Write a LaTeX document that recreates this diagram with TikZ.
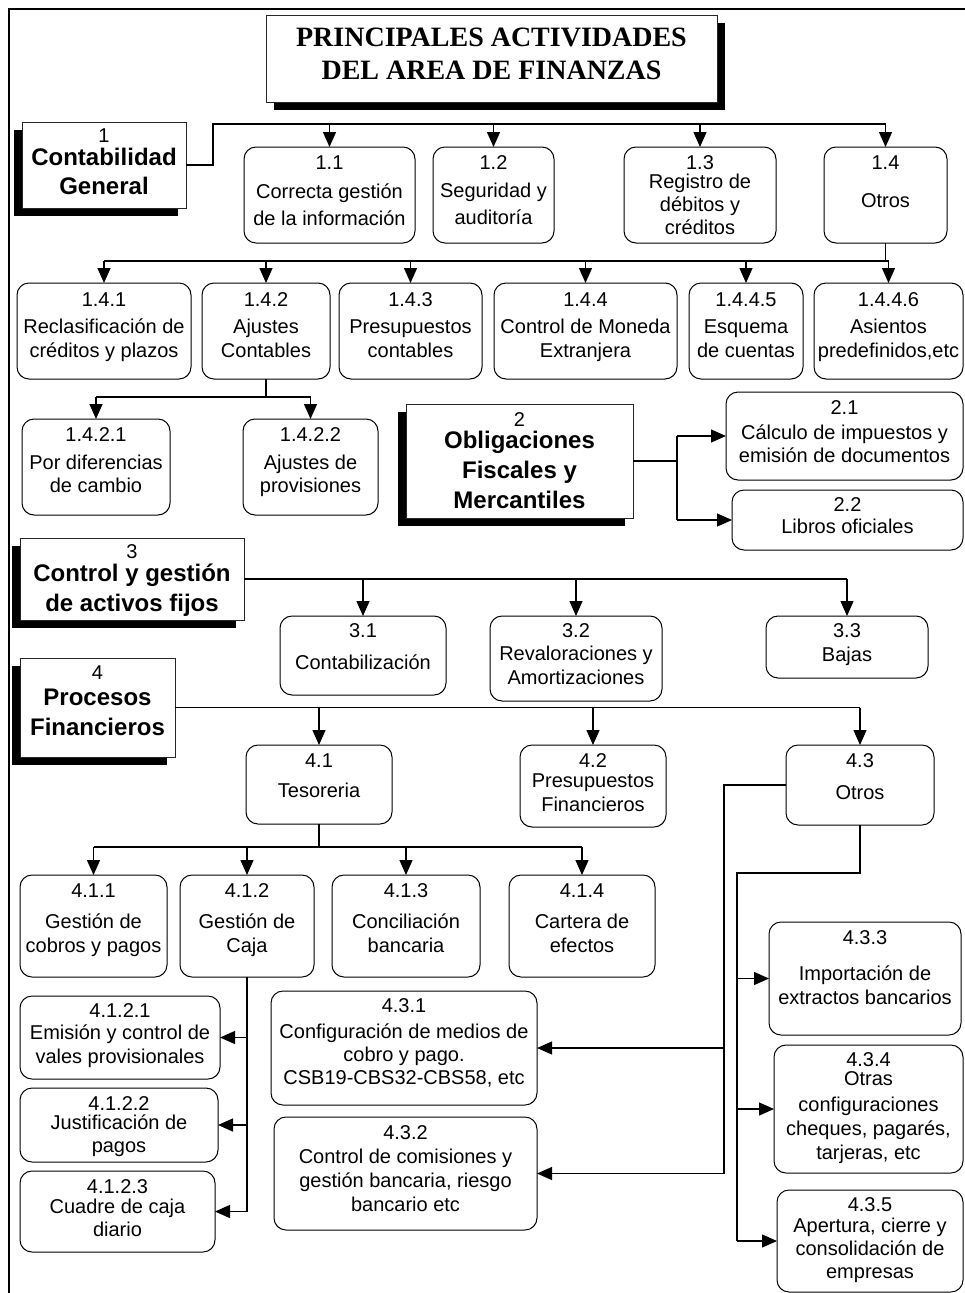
\documentclass[tikz,border=0pt]{standalone}
\usepackage{fontspec}
\setmainfont{Liberation Sans}
\newfontfamily\titlefont{Liberation Serif}
\usetikzlibrary{arrows.meta}
\newcommand\numf{\fontsize{20}{24}\selectfont\mdseries}
\tikzset{
  rbox/.style={draw=black, line width=1pt, rounded corners=12pt, inner sep=0pt, outer sep=0pt, fill=white},
  sbox/.style={draw=black!85, line width=1pt, inner sep=0pt, outer sep=0pt, fill=white},
  txt/.style={align=center, inner sep=0pt, font=\fontsize{20}{24}\selectfont, execute at begin node=\strut, execute at end node=\strut},
  btxt/.style={align=center, inner sep=0pt, font=\fontsize{24}{30}\selectfont\bfseries, execute at begin node=\strut, execute at end node=\strut},
  ttxt/.style={align=center, inner sep=0pt, font=\titlefont\bfseries\fontsize{28}{33}\selectfont, execute at begin node=\strut, execute at end node=\strut},
  ln/.style={line width=1.3pt},
  arr/.style={line width=1.3pt, -{Triangle[width=13pt,length=15pt]}},
}
% rounded box: name, x1, y1, x2, y2, text-y, text
\newcommand\rbx[7]{%
  \node[rbox, minimum width={#4pt-#2pt}, minimum height={#5pt-#3pt}] (#1) at ({(#2+#4)/2},{(#3+#5)/2}) {};
  \node[txt] (#1t) at ({(#2+#4)/2},#6) {#7};
}
% shadow box: name, x1, y1, x2, y2, shadow dx, text-y, text
\newcommand\sbx[8]{%
  \fill[black] ({#2+(#6)},{#3+8}) rectangle ({#4+(#6)},{#5+8});
  \node[sbox, minimum width={#4pt-#2pt}, minimum height={#5pt-#3pt}] (#1) at ({(#2+#4)/2},{(#3+#5)/2}) {};
  \node[btxt] (#1t) at ({(#2+#4)/2},#7) {#8};
}
\begin{document}
\begin{tikzpicture}[x=1pt,y=-1pt]
\useasboundingbox (0,0) rectangle (965,1293);
% frame
\draw[ln] (9,1293) -- (9,9) -- (965,9);
% title
\fill[black] (274,23) rectangle (725,110);
\node[sbox, minimum width=451pt, minimum height=87pt] (title) at (491.5,58.5) {};
\node[ttxt] (titlet) at (491.5,59) {PRINCIPALES ACTIVIDADES\\DEL AREA DE FINANZAS};

% main boxes
\sbx{b1}{22}{122}{186}{208}{-8}{166}{{\numf 1}\\[-7pt]Contabilidad\\[-1pt]General}
\sbx{b2}{406}{404}{633}{518}{-8}{465.5}{{\numf 2}\\[-8pt]Obligaciones\\Fiscales y\\Mercantiles}
\sbx{b3}{20}{538}{244}{620}{-8}{583}{{\numf 3}\\[-7pt]Control y gestión\\de activos fijos}
\sbx{b4}{20}{658}{175}{757}{-8}{705.5}{{\numf 4}\\[-4pt]Procesos\\Financieros}

% level 1.x
\rbx{n11}{244}{147}{415}{243}{194.5}{1.1\\[5pt]Correcta gestión\\[3pt]de la información}
\rbx{n12}{433}{147}{554}{243}{194}{1.2\\[4pt]Seguridad y\\[3pt]auditoría}
\rbx{n13}{624}{147}{776}{243}{199}{1.3\\[-5pt]Registro de\\[-1pt]débitos y\\[-1pt]créditos}
\rbx{n14}{824}{147}{947}{243}{185.5}{1.4\\[14pt]Otros}

\rbx{n141}{17}{283}{191}{379}{329}{1.4.1\\[3pt]Reclasificación de\\créditos y plazos}
\rbx{n142}{202}{283}{330}{379}{329}{1.4.2\\[3pt]Ajustes\\Contables}
\rbx{n143}{339}{283}{482}{379}{329}{1.4.3\\[3pt]Presupuestos\\contables}
\rbx{n144}{494}{283}{677}{379}{329}{1.4.4\\[3pt]Control de Moneda\\Extranjera}
\rbx{n1445}{689}{283}{803}{379}{329}{1.4.4.5\\[3pt]Esquema\\de cuentas}
\rbx{n1446}{814}{283}{963}{379}{329}{1.4.4.6\\[3pt]Asientos\\predefinidos,etc}

\rbx{n1421}{22}{419}{170}{515}{464}{1.4.2.1\\[4pt]Por diferencias\\[-1pt]de cambio}
\rbx{n1422}{243}{419}{378}{515}{464}{1.4.2.2\\[4pt]Ajustes de\\[-1pt]provisiones}

\rbx{n21}{726}{392}{963}{480}{435.5}{2.1\\[1pt]Cálculo de impuestos y\\[-1pt]emisión de documentos}
\rbx{n22}{732}{490}{963}{550}{519.5}{2.2\\[-2pt]Libros oficiales}

\rbx{n31}{280}{616}{446}{695}{650.5}{3.1\\[8pt]Contabilización}
\rbx{n32}{490}{616}{662}{701}{658}{3.2\\[-1pt]Revaloraciones y\\Amortizaciones}
\rbx{n33}{766}{616}{928}{678}{646.5}{3.3\\Bajas}

\rbx{n41}{246}{745}{392}{824}{779.5}{4.1\\[6pt]Tesoreria}
\rbx{n42}{520}{745}{666}{827}{786.5}{4.2\\[-4pt]Presupuestos\\Financieros}
\rbx{n43}{786}{745}{934}{825}{780.5}{4.3\\[8pt]Otros}

\rbx{n411}{20}{875}{167}{977}{922}{4.1.1\\[7pt]Gestión de\\cobros y pagos}
\rbx{n412}{180}{875}{314}{977}{922}{4.1.2\\[7pt]Gestión de\\Caja}
\rbx{n413}{332}{875}{480}{977}{922}{4.1.3\\[7pt]Conciliación\\bancaria}
\rbx{n414}{509}{875}{655}{977}{922}{4.1.4\\[7pt]Cartera de\\efectos}

\rbx{n4121}{20}{996}{220}{1079}{1037.5}{4.1.2.1\\[-2pt]Emisión y control de\\vales provisionales}
\rbx{n4122}{20}{1088}{218}{1162}{1128.5}{4.1.2.2\\[-5pt]Justificación de\\[-1pt]pagos}
\rbx{n4123}{20}{1171}{215}{1252}{1212}{4.1.2.3\\[-4pt]Cuadre de caja\\[-1pt]diario}

\rbx{n431}{271}{991}{537}{1105}{1045.5}{4.3.1\\[2pt]Configuración de medios de\\[-1pt]cobro y pago.\\[-1pt]CSB19-CBS32-CBS58, etc}
\rbx{n432}{274}{1117}{537}{1230}{1172.5}{4.3.2\\Control de comisiones y\\gestión bancaria, riesgo\\bancario etc}

\rbx{n433}{769}{922}{961}{1035}{971.5}{4.3.3\\[12pt]Importación de\\extractos bancarios}
\rbx{n434}{774}{1045}{963}{1173}{1110}{4.3.4\\[-5pt]Otras\\[2pt]configuraciones\\cheques, pagarés,\\tarjeras, etc}
\rbx{n435}{777}{1190}{963}{1292}{1242}{4.3.5\\[-3pt]Apertura, cierre y\\[-1pt]consolidación de\\[-1pt]empresas}

% connectors 1
\coordinate (j1) at (213,124);
\draw[ln] (b1.east) -| (j1) -- (j1 -| n14.north);
\foreach \n in {n11,n12,n13,n14} \draw[arr] (j1 -| \n.north) -- (\n.north);
% 1.4
\coordinate (j14) at (886,261);
\draw[ln] (n14.south) -- (n14.south |- j14);
\draw[ln] (j14 -| n141.north) -- (j14 -| n1446.north);
\foreach \n in {n141,n142,n143,n144,n1445,n1446} \draw[arr] (j14 -| \n.north) -- (\n.north);
% 1.4.2
\coordinate (j142) at (266,397);
\draw[ln] (n142.south) -- (n142.south |- j142);
\draw[ln] (j142 -| n1421.north) -- (j142 -| n1422.north);
\foreach \n in {n1421,n1422} \draw[arr] (j142 -| \n.north) -- (\n.north);
% 2
\coordinate (j2) at (677,461);
\draw[ln] (b2.east) -- (j2);
\draw[ln] (j2 |- n21.west) -- (j2 |- n22.west);
\foreach \n in {n21,n22} \draw[arr] (j2 |- \n.west) -- (\n.west);
% 3
\draw[ln] (b3.east) -- (b3.east -| n33.north);
\foreach \n in {n31,n32,n33} \draw[arr] (b3.east -| \n.north) -- (\n.north);
% 4
\draw[ln] (b4.east) -- (b4.east -| n43.north);
\foreach \n in {n41,n42,n43} \draw[arr] (b4.east -| \n.north) -- (\n.north);
% 4.1
\coordinate (j41) at (319,847);
\draw[ln] (n41.south) -- (n41.south |- j41);
\draw[ln] (j41 -| n411.north) -- (j41 -| n414.north);
\foreach \n in {n411,n412,n413,n414} \draw[arr] (j41 -| \n.north) -- (\n.north);
% 4.1.2
\draw[ln] (n412.south) -- (n412.south |- n4123.east);
\foreach \n in {n4121,n4122,n4123} \draw[arr] (n412.south |- \n.east) -- (\n.east);
% 4.3 left branch
\coordinate (j43a) at (724,786);
\draw[ln] (n43.west) -- (n43.west -| j43a) -- (j43a |- n432.east);
\foreach \n in {n431,n432} \draw[arr] (j43a |- \n.east) -- (\n.east);
% 4.3 bottom branch
\coordinate (j43b) at (737,873);
\draw[ln] (n43.south) |- (j43b) -- (j43b |- n435.west);
\foreach \n in {n433,n434,n435} \draw[arr] (j43b |- \n.west) -- (\n.west);
\end{tikzpicture}
\end{document}
